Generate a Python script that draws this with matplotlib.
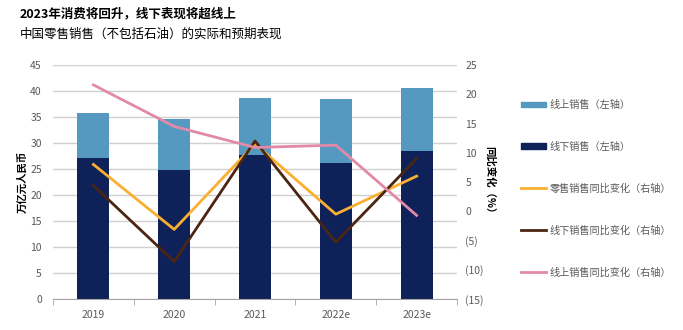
import matplotlib
matplotlib.use("Agg")
import matplotlib.pyplot as plt
from matplotlib.patches import Patch
from matplotlib.lines import Line2D
import numpy as np

plt.rcParams['font.family'] = ['Noto Sans CJK SC', 'DejaVu Sans']

years = ["2019", "2020", "2021", "2022e", "2023e"]
offline = [27.1, 24.9, 27.7, 26.2, 28.5]
online = [8.6, 9.7, 10.9, 12.2, 12.0]
retail_yoy = [8.0, -3.1, 11.5, -0.5, 6.0]
offline_yoy = [4.4, -8.6, 12.0, -5.3, 9.0]
online_yoy = [21.6, 14.5, 10.9, 11.3, -0.7]
right_ticks = [25, 20, 15, 10, 5, 0, -5, -10, -15]
right_labels = ["25", "20", "15", "10", "5", "0", "(5)", "(10)", "(15)"]

c_online = "#5599C1"
c_offline = "#0E2259"
c_retail = "#F9B030"
c_offl = "#4B2512"
c_onl = "#E18AA8"
tick_col = "#595959"

fig = plt.figure(figsize=(6.83, 3.30), dpi=100)
ax = fig.add_axes([53/683, 1-299/330, (457-53)/683, (299-65)/330])
x = np.arange(len(years))
w = 0.395
ax.bar(x, offline, w, color=c_offline, zorder=2)
ax.bar(x, online, w, bottom=offline, color=c_online, zorder=2)
ax.set_ylim(0, 45)
ax.set_xlim(-0.5, 4.5)
ax.set_yticks(range(0, 46, 5))
ax.yaxis.grid(True, color="#D0D0D0", linewidth=1.0, zorder=0)
ax.set_axisbelow(True)
for s in ["top", "right", "left"]:
    ax.spines[s].set_visible(False)
ax.spines["bottom"].set_color("#A6A6A6")
ax.tick_params(axis="y", length=0, labelsize=7.5, labelcolor=tick_col, pad=8)
ax.set_xticks(x)
ax.set_xticklabels(years)
ax.tick_params(axis="x", length=0, labelsize=7.5, labelcolor=tick_col, pad=8)
ax.set_xticks(np.arange(-0.5, 5.0, 1.0), minor=True)
ax.tick_params(axis="x", which="minor", length=4, color="#A6A6A6")
ax.set_ylabel("万亿元人民币", fontsize=7.5, fontweight="bold", labelpad=2)

ax2 = ax.twinx()
ax2.plot(x, retail_yoy, color=c_retail, lw=2, zorder=3)
ax2.plot(x, offline_yoy, color=c_offl, lw=2, zorder=3)
ax2.plot(x, online_yoy, color=c_onl, lw=2, zorder=3)
ax2.set_ylim(-15, 25)
ax2.set_yticks(right_ticks)
ax2.set_yticklabels(right_labels)
for s in ["top", "right", "left", "bottom"]:
    ax2.spines[s].set_visible(False)
ax2.tick_params(axis="y", length=0, labelsize=7.5, labelcolor=tick_col, pad=6)
ax2.set_ylabel("同比变化（%）", fontsize=7.5, fontweight="bold", rotation=-90, labelpad=8)

fig.text(20/683, 1-14/330, "2023年消费将回升，线下表现将超线上", fontsize=9, fontweight="bold", va="center", ha="left")
fig.text(20/683, 1-34/330, "中国零售销售（不包括石油）的实际和预期表现", fontsize=9, va="center", ha="left")

handles = [
    Patch(color=c_online),
    Patch(color=c_offline),
    Line2D([], [], color=c_retail, lw=2),
    Line2D([], [], color=c_offl, lw=2),
    Line2D([], [], color=c_onl, lw=2),
]
labels = ["线上销售（左轴）", "线下销售（左轴）", "零售销售同比变化（右轴）",
          "线下销售同比变化（右轴）", "线上销售同比变化（右轴）"]
fig.legend(handles, labels, loc="upper left", bbox_to_anchor=(521/683, 1-100/330),
           frameon=False, fontsize=7.3, labelspacing=3.12, handlelength=2.5,
           handleheight=0.5, handletextpad=0.3, borderpad=0, borderaxespad=0,
           labelcolor=tick_col)

fig.savefig("out.png", dpi=100)
